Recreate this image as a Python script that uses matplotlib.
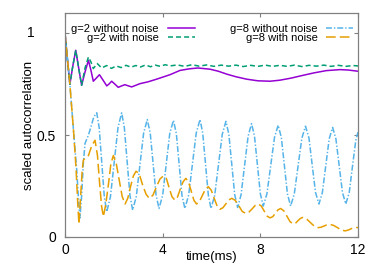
import matplotlib
matplotlib.use("Agg")
import matplotlib.pyplot as plt
from matplotlib.transforms import blended_transform_factory

plt.rcParams['font.family'] = ['Liberation Sans', 'DejaVu Sans']
plt.rcParams['lines.scale_dashes'] = False

# g=2 without noise
t_g2 = [0, 0.1, 0.2, 0.32, 0.44, 0.56, 0.68, 0.82, 0.96, 1.06, 1.16, 1.28, 1.41, 1.56, 1.71,
        1.81, 1.91, 2.05, 2.18, 2.32, 2.45, 2.6, 2.73, 2.9, 3.07, 3.4, 3.75, 4.0, 4.3, 4.71,
        5.1, 5.45, 5.94, 6.28, 6.62, 7.0, 7.44, 7.9, 8.4, 8.8, 9.25, 9.75, 10.2, 10.7, 11.26,
        11.6, 12.0]
v_g2 = [1.0, 0.87, 0.75, 0.84, 0.917, 0.83, 0.745, 0.81, 0.868, 0.82, 0.765, 0.78, 0.797, 0.77,
        0.742, 0.752, 0.765, 0.75, 0.735, 0.742, 0.748, 0.742, 0.737, 0.745, 0.753, 0.762, 0.775,
        0.785, 0.797, 0.818, 0.826, 0.83, 0.824, 0.814, 0.80, 0.787, 0.775, 0.767, 0.765, 0.77,
        0.78, 0.794, 0.806, 0.817, 0.822, 0.82, 0.814]

# g=2 with noise
t_g2n = [0, 0.1, 0.2, 0.32, 0.44, 0.56, 0.68, 0.82, 0.96, 1.06, 1.16, 1.32, 1.5, 1.71, 1.9,
         2.1, 2.3, 2.5, 2.7, 2.9, 3.1, 3.3, 3.5, 3.7, 3.9, 4.1, 4.3, 4.6, 4.9, 5.2, 5.5, 5.8,
         6.1, 6.4, 6.7, 7.0, 7.3, 7.6, 7.9, 8.2, 8.5, 8.8, 9.1, 9.4, 9.7, 10.0, 10.3, 10.6,
         10.9, 11.2, 11.5, 11.8, 12.0]
v_g2n = [1.0, 0.87, 0.75, 0.84, 0.917, 0.83, 0.745, 0.83, 0.884, 0.86, 0.827, 0.852, 0.83,
         0.842, 0.828, 0.84, 0.832, 0.843, 0.834, 0.842, 0.835, 0.845, 0.836, 0.844, 0.838,
         0.846, 0.84, 0.845, 0.838, 0.846, 0.839, 0.845, 0.838, 0.844, 0.839, 0.844, 0.837,
         0.843, 0.838, 0.844, 0.838, 0.843, 0.838, 0.844, 0.837, 0.843, 0.839, 0.844, 0.838,
         0.843, 0.838, 0.842, 0.84]

# g=8 without noise
t_g8 = [0, 0.2, 0.35, 0.48, 0.55, 0.61, 0.68, 0.75, 0.82, 0.96, 1.06, 1.18, 1.3,
        1.40, 1.505, 1.61, 1.71, 1.86, 2.015, 2.17, 2.32, 2.43, 2.545, 2.66, 2.77,
        2.92, 3.07, 3.22, 3.37, 3.49, 3.61, 3.73, 3.85, 4.0, 4.145, 4.29, 4.44,
        4.56, 4.675, 4.79, 4.91, 5.065, 5.22, 5.375, 5.53, 5.64, 5.755, 5.87, 5.98,
        6.13, 6.285, 6.44, 6.59, 6.71, 6.83, 6.95, 7.07, 7.21, 7.355, 7.5, 7.64,
        7.76, 7.88, 8.0, 8.12, 8.27, 8.425, 8.58, 8.73, 8.86, 8.985, 9.11, 9.24,
        9.39, 9.545, 9.70, 9.85, 9.99, 10.125, 10.26, 10.4, 10.54, 10.68, 10.82, 10.96,
        11.095, 11.23, 11.365, 11.5, 11.64, 11.775, 11.91, 12.0]
v_g8 = [1.0, 0.75, 0.52, 0.33, 0.19, 0.093, 0.2, 0.36, 0.46, 0.50, 0.54, 0.59, 0.61,
        0.537, 0.367, 0.197, 0.124, 0.197, 0.367, 0.537, 0.61, 0.538, 0.371, 0.204, 0.132,
        0.199, 0.355, 0.51, 0.577, 0.511, 0.359, 0.206, 0.14, 0.205, 0.357, 0.508, 0.573,
        0.508, 0.357, 0.205, 0.14, 0.206, 0.359, 0.511, 0.577, 0.511, 0.359, 0.206, 0.14,
        0.204, 0.354, 0.504, 0.568, 0.505, 0.357, 0.208, 0.145, 0.207, 0.351, 0.495, 0.557,
        0.496, 0.355, 0.213, 0.152, 0.212, 0.351, 0.489, 0.549, 0.489, 0.351, 0.212, 0.152,
        0.211, 0.348, 0.485, 0.544, 0.487, 0.353, 0.219, 0.162, 0.218, 0.35, 0.482, 0.538,
        0.482, 0.35, 0.218, 0.162, 0.218, 0.348, 0.475, 0.515]

# g=8 with noise
t_g8n = [0, 0.2, 0.35, 0.45, 0.52, 0.57, 0.64, 0.7, 0.75, 0.85, 0.96, 1.1, 1.23, 1.33, 1.42,
         1.5, 1.57, 1.67, 1.78, 1.88, 1.98, 2.1, 2.22, 2.34, 2.46, 2.57, 2.69, 2.8, 2.91,
         3.04, 3.18, 3.32, 3.45, 3.6, 3.74, 3.89, 4.03, 4.15, 4.27, 4.38, 4.5, 4.61, 4.72,
         4.84, 4.95, 5.06, 5.17, 5.28, 5.39, 5.51, 5.63, 5.75, 5.87, 5.99, 6.11, 6.23, 6.35,
         6.47, 6.59, 6.71, 6.83, 6.97, 7.12, 7.26, 7.41, 7.54, 7.67, 7.79, 7.92, 8.04, 8.16,
         8.28, 8.4, 8.51, 8.62, 8.72, 8.83, 8.96, 9.09, 9.22, 9.35, 9.45, 9.54, 9.64, 9.73,
         9.89, 10.05, 10.21, 10.37, 10.49, 10.61, 10.73, 10.85, 11.0, 11.16, 11.31, 11.47,
         11.6, 11.73, 11.86, 12.0]
v_g8n = [1.0, 0.75, 0.52, 0.34, 0.17, 0.064, 0.2, 0.32, 0.377, 0.39, 0.40, 0.45, 0.475, 0.4,
         0.26, 0.15, 0.10, 0.16, 0.26, 0.36, 0.40, 0.36, 0.28, 0.2, 0.162, 0.19, 0.25, 0.3,
         0.323, 0.31, 0.255, 0.21, 0.19, 0.205, 0.245, 0.285, 0.30, 0.288, 0.24, 0.198, 0.181,
         0.197, 0.235, 0.272, 0.288, 0.27, 0.225, 0.18, 0.162, 0.175, 0.205, 0.235, 0.247,
         0.23, 0.19, 0.152, 0.136, 0.144, 0.163, 0.182, 0.19, 0.18, 0.153, 0.125, 0.116,
         0.123, 0.139, 0.155, 0.162, 0.152, 0.127, 0.102, 0.094, 0.1, 0.117, 0.133, 0.14,
         0.129, 0.102, 0.075, 0.064, 0.069, 0.08, 0.091, 0.096, 0.089, 0.071, 0.053, 0.046,
         0.048, 0.054, 0.06, 0.062, 0.057, 0.046, 0.035, 0.03, 0.034, 0.041, 0.045, 0.047]

x_ticks = [0, 4, 8, 12]
y_ticks = [0, 0.5, 1]

fig = plt.figure(figsize=(3.82, 2.67), dpi=100)
ax = fig.add_axes([65 / 382, 1 - 237 / 267, 293 / 382, 224 / 267])

lw = 1.1
ax.plot(t_g2, v_g2, color='#9400D3', lw=lw, label='g=2 without noise')
ax.plot(t_g2n, v_g2n, color='#009E73', lw=lw, dashes=(3.6, 2.2), label='g=2 with noise')
ax.plot(t_g8, v_g8, color='#56B4E9', lw=lw, dashes=(4.3, 1.4, 1.0, 1.4), label='g=8 without noise')
ax.plot(t_g8n, v_g8n, color='#E69F00', lw=lw, dashes=(7.0, 2.9), label='g=8 with noise')

ax.set_xlim(0, 12)
ax.set_ylim(0, 1.1)
ax.set_xticks(x_ticks)
ax.set_xticklabels([str(x) for x in x_ticks])
ax.set_yticks(y_ticks)
ax.set_yticklabels(['0', '0.5', ''])

frame = '#808080'
for s in ax.spines.values():
    s.set_color(frame)
    s.set_linewidth(0.9)
ax.tick_params(direction='in', length=3, width=0.8, color=frame, top=True, right=True,
               labelsize=10, labelcolor='black')
ax.tick_params(axis='x', pad=4.5)
ax.tick_params(axis='y', pad=6.5)

# the "1" label sits further left in the original
trans = blended_transform_factory(fig.transFigure, ax.transData)
ax.text(35 / 382, 1.0, '1', transform=trans, ha='right', va='center', fontsize=10)

ax.text(0.5, -0.089, 'time(ms)', transform=ax.transAxes, ha='center', va='center', fontsize=9.5)
ax.text(-0.123, 0.5, 'scaled autocorrelation', transform=ax.transAxes, ha='center',
        va='center', rotation=90, fontsize=9.5)

ax.legend(loc='upper left', bbox_to_anchor=(0.022, 0.952), ncol=2, frameon=False,
          markerfirst=False, fontsize=8, handlelength=2.4, handletextpad=0.8,
          columnspacing=3.2, labelspacing=-0.05, borderpad=0, borderaxespad=0)

fig.savefig('out.png', dpi=100)
